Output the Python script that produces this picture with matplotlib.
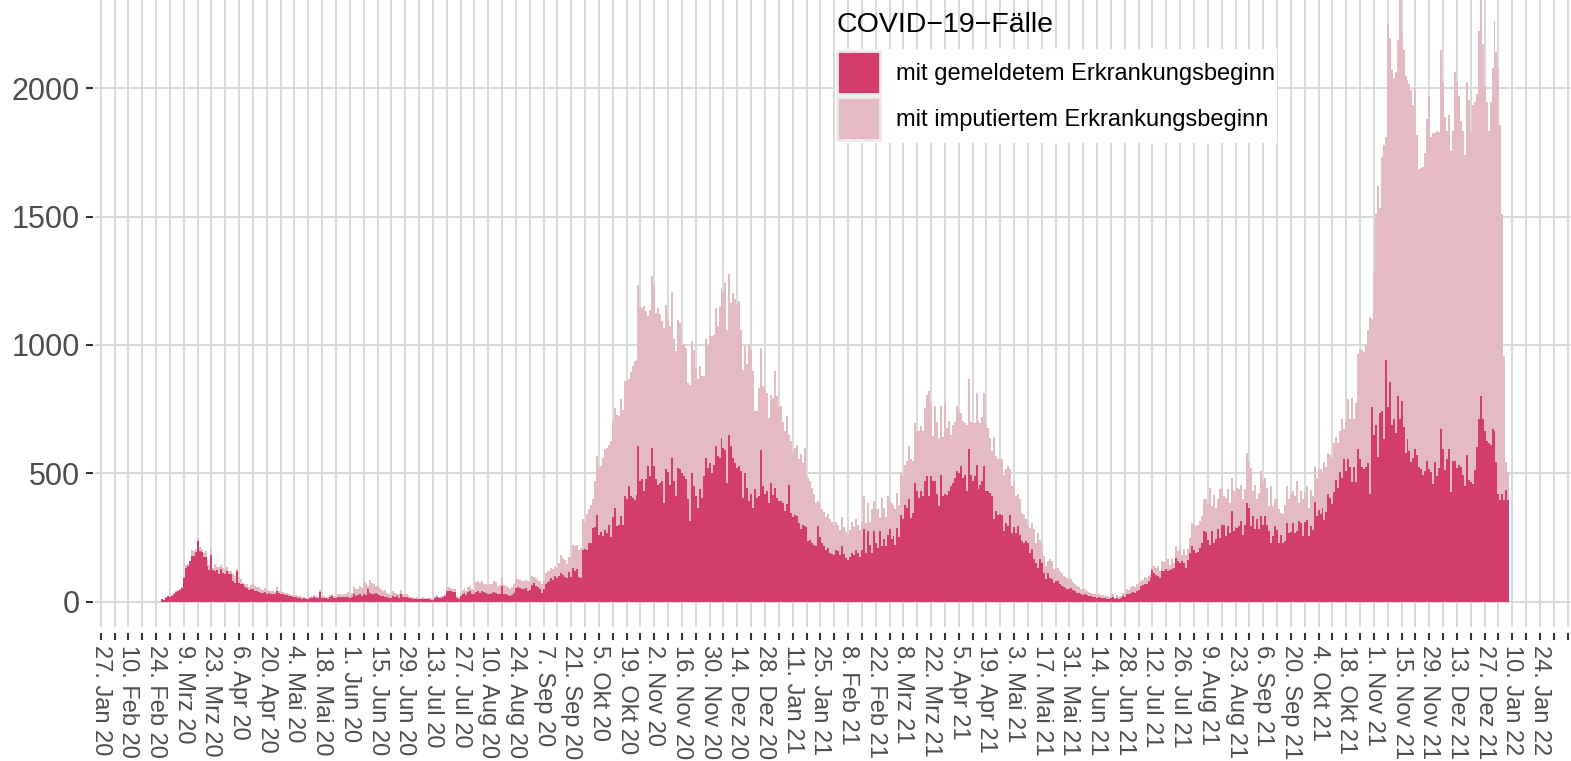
import numpy as np
import pandas as pd
import matplotlib
matplotlib.use("Agg")
import matplotlib.pyplot as plt
import matplotlib.dates as mdates
from matplotlib.patches import Patch

plt.rcParams['font.family'] = ['Liberation Sans', 'DejaVu Sans']

# Tageswerte ab 25.02.2020 (eine Zeile = eine Woche)
# gesamt = alle Faelle (oberer Rand), gemeldet = mit gemeldetem Erkrankungsbeginn
gesamt = [
    0, 0, 10, 7, 16, 22, 22,
    25, 34, 40, 44, 50, 57, 96,
    143, 145, 158, 200, 198, 205, 247,
    213, 205, 191, 195, 161, 143, 205,
    129, 146, 135, 133, 142, 130, 126,
    133, 120, 120, 107, 100, 128, 94,
    87, 74, 68, 68, 58, 63, 68,
    60, 58, 55, 50, 45, 52, 40,
    45, 42, 40, 38, 55, 42, 40,
    38, 35, 32, 30, 26, 25, 22,
    24, 22, 20, 16, 18, 14, 15,
    18, 20, 24, 22, 18, 44, 22,
    20, 18, 16, 24, 30, 22, 20,
    28, 30, 26, 28, 30, 36, 24,
    35, 55, 50, 48, 60, 52, 80,
    72, 60, 82, 74, 70, 60, 55,
    55, 50, 40, 45, 35, 30, 26,
    40, 34, 30, 28, 45, 30, 26,
    28, 22, 18, 16, 14, 16, 12,
    14, 16, 14, 12, 13, 12, 10,
    20, 24, 18, 20, 22, 30, 55,
    55, 52, 50, 48, 22, 16, 30,
    45, 52, 40, 55, 60, 48, 45,
    75, 78, 72, 80, 70, 68, 60,
    70, 68, 80, 75, 62, 65, 90,
    65, 60, 55, 50, 55, 68, 88,
    88, 85, 80, 78, 85, 80, 75,
    100, 95, 90, 85, 80, 70, 85,
    110, 120, 118, 130, 125, 140, 131,
    150, 180, 170, 160, 145, 175, 175,
    220, 215, 222, 200, 210, 320, 310,
    340, 360, 375, 400, 470, 567, 520,
    528, 560, 593, 600, 610, 625, 700,
    755, 729, 722, 790, 748, 859, 860,
    866, 895, 920, 937, 943, 1232, 1149,
    1145, 1151, 1132, 1112, 1138, 1268, 1236,
    1125, 1145, 1120, 1093, 1067, 1154, 1099,
    1073, 1206, 1024, 976, 1099, 1085, 1000,
    1002, 989, 852, 846, 1015, 982, 911,
    866, 917, 878, 880, 1024, 1000, 1040,
    1034, 1040, 1145, 1073, 1150, 1223, 1216,
    1242, 1060, 1275, 1164, 1203, 1180, 1160,
    1171, 1060, 904, 995, 924, 1000, 980,
    898, 742, 742, 833, 989, 839, 830,
    813, 716, 807, 794, 898, 800, 760,
    761, 700, 664, 722, 650, 625, 580,
    600, 610, 555, 574, 540, 600, 489,
    482, 470, 443, 420, 385, 390, 378,
    360, 350, 330, 340, 320, 310, 300,
    310, 300, 280, 330, 290, 270, 260,
    280, 310, 290, 320, 300, 280, 310,
    411, 307, 385, 310, 359, 391, 360,
    359, 326, 404, 365, 330, 411, 391,
    385, 372, 359, 424, 378, 502, 490,
    534, 547, 606, 554, 547, 697, 664,
    664, 684, 664, 755, 807, 820, 775,
    645, 762, 700, 638, 762, 640, 775,
    677, 703, 651, 690, 700, 762, 740,
    735, 703, 697, 690, 866, 700, 697,
    697, 814, 703, 697, 720, 814, 690,
    677, 638, 586, 640, 567, 554, 560,
    554, 495, 515, 528, 515, 450, 470,
    411, 420, 398, 346, 339, 320, 300,
    287, 307, 281, 229, 268, 240, 229,
    177, 138, 157, 164, 157, 125, 130,
    131, 120, 110, 100, 95, 90, 86,
    86, 75, 70, 60, 55, 50, 47,
    47, 40, 36, 34, 30, 28, 25,
    28, 25, 24, 22, 20, 18, 20,
    30, 15, 25, 18, 22, 35, 28,
    47, 45, 55, 60, 58, 70, 73,
    78, 85, 95, 90, 100, 108, 138,
    138, 131, 138, 118, 157, 153, 157,
    164, 144, 164, 150, 216, 196, 210,
    183, 203, 180, 205, 248, 307, 300,
    294, 300, 313, 333, 398, 400, 380,
    443, 372, 417, 365, 398, 437, 443,
    411, 404, 437, 385, 482, 430, 410,
    443, 437, 456, 398, 437, 580, 543,
    521, 430, 456, 398, 424, 508, 470,
    482, 443, 372, 450, 372, 398, 400,
    359, 346, 340, 378, 450, 398, 420,
    430, 410, 469, 385, 430, 398, 426,
    449, 365, 434, 411, 526, 480, 518,
    518, 503, 542, 526, 580, 572, 560,
    618, 642, 618, 665, 711, 672, 700,
    788, 711, 795, 711, 772, 965, 980,
    980, 972, 1000, 1057, 1111, 1103, 1280,
    1511, 1618, 1534, 1734, 1780, 1811, 2249,
    2195, 2072, 2042, 2065, 2188, 2420, 2226,
    2150, 2049, 2034, 2018, 1995, 1934, 2003,
    1818, 1688, 1690, 1695, 1750, 1880, 1972,
    1811, 1826, 1826, 1834, 1830, 2149, 2026,
    1888, 1834, 1895, 1757, 1834, 2065, 2026,
    1972, 1872, 1834, 1742, 2026, 1957, 1834,
    1934, 1949, 1980, 2226, 2400, 2172, 2011,
    1949, 1834, 1949, 2080, 2265, 2142, 2080,
    1857, 1511, 957, 542, 503,
]

gemeldet = [
    0, 0, 10, 6, 14, 20, 18,
    22, 30, 36, 40, 46, 53, 90,
    130, 138, 158, 178, 178, 192, 234,
    198, 192, 175, 175, 139, 122, 181,
    122, 120, 122, 107, 128, 110, 107,
    120, 107, 107, 81, 74, 118, 74,
    68, 68, 55, 51, 45, 48, 48,
    42, 40, 38, 35, 32, 38, 28,
    32, 30, 28, 28, 42, 32, 30,
    30, 26, 24, 22, 20, 18, 16,
    16, 14, 14, 10, 12, 9, 10,
    12, 14, 16, 14, 12, 38, 14,
    12, 12, 10, 16, 22, 14, 12,
    16, 18, 16, 18, 16, 18, 14,
    18, 28, 22, 24, 30, 20, 28,
    26, 48, 32, 30, 28, 34, 30,
    24, 22, 20, 18, 16, 15, 14,
    22, 18, 20, 14, 28, 18, 16,
    18, 14, 12, 10, 9, 10, 8,
    9, 10, 9, 8, 8, 7, 6,
    14, 18, 12, 14, 16, 22, 40,
    40, 40, 38, 36, 14, 10, 20,
    28, 35, 25, 36, 40, 30, 28,
    36, 40, 35, 42, 38, 32, 30,
    30, 32, 38, 35, 28, 30, 60,
    30, 28, 25, 22, 25, 35, 52,
    55, 52, 50, 48, 52, 40, 45,
    65, 72, 60, 55, 50, 35, 50,
    70, 75, 80, 90, 85, 100, 92,
    100, 110, 105, 95, 90, 115, 95,
    130, 118, 125, 95, 92, 200, 205,
    200, 229, 230, 287, 290, 339, 260,
    270, 255, 280, 268, 300, 250, 330,
    365, 294, 300, 333, 300, 410, 400,
    450, 410, 405, 395, 415, 606, 469,
    476, 430, 476, 528, 489, 600, 528,
    476, 456, 463, 470, 385, 515, 505,
    456, 560, 470, 410, 521, 515, 500,
    489, 476, 398, 313, 502, 450, 411,
    365, 437, 404, 489, 560, 520, 540,
    502, 534, 606, 567, 560, 637, 600,
    592, 463, 651, 606, 560, 541, 520,
    528, 508, 404, 502, 443, 391, 420,
    365, 437, 404, 410, 592, 450, 420,
    430, 385, 463, 417, 443, 404, 390,
    391, 385, 352, 380, 456, 345, 330,
    339, 333, 307, 281, 300, 294, 290,
    235, 240, 229, 220, 216, 294, 250,
    230, 215, 200, 210, 190, 185, 180,
    200, 195, 180, 215, 185, 170, 160,
    175, 190, 180, 200, 190, 175, 200,
    281, 190, 274, 222, 190, 274, 230,
    209, 274, 216, 242, 216, 261, 281,
    242, 255, 222, 287, 250, 339, 320,
    378, 365, 398, 326, 346, 463, 430,
    404, 430, 411, 469, 489, 411, 489,
    469, 469, 420, 372, 494, 411, 420,
    417, 430, 450, 463, 482, 508, 500,
    528, 482, 494, 430, 593, 494, 470,
    489, 534, 437, 456, 470, 528, 430,
    430, 424, 411, 320, 352, 339, 340,
    339, 274, 307, 294, 339, 268, 290,
    268, 294, 260, 235, 229, 235, 230,
    190, 203, 164, 151, 131, 164, 150,
    112, 86, 110, 92, 86, 73, 80,
    79, 70, 62, 56, 52, 50, 47,
    53, 45, 40, 35, 32, 30, 27,
    30, 26, 22, 20, 18, 16, 14,
    16, 14, 13, 12, 11, 10, 12,
    16, 8, 14, 10, 12, 22, 18,
    30, 28, 32, 36, 34, 42, 45,
    60, 65, 70, 68, 80, 90, 122,
    112, 105, 99, 92, 118, 118, 125,
    118, 122, 125, 129, 170, 157, 150,
    157, 150, 131, 160, 190, 218, 200,
    190, 193, 209, 229, 274, 270, 240,
    222, 274, 229, 242, 281, 248, 300,
    300, 255, 294, 268, 352, 274, 290,
    287, 294, 313, 261, 300, 385, 365,
    294, 333, 281, 320, 281, 333, 300,
    333, 300, 274, 229, 255, 294, 280,
    229, 261, 229, 235, 307, 268, 270,
    307, 268, 274, 313, 307, 255, 311,
    318, 257, 295, 280, 388, 334, 357,
    342, 365, 318, 349, 418, 403, 380,
    426, 472, 442, 503, 480, 557, 510,
    557, 526, 465, 526, 465, 595, 557,
    526, 518, 526, 540, 418, 757, 649,
    688, 565, 734, 742, 634, 942, 757,
    857, 688, 711, 657, 803, 711, 780,
    680, 580, 634, 588, 542, 560, 595,
    572, 526, 518, 495, 510, 549, 518,
    503, 457, 542, 488, 520, 672, 595,
    511, 557, 595, 426, 549, 549, 520,
    534, 526, 495, 449, 572, 472, 465,
    457, 511, 603, 711, 803, 711, 665,
    626, 618, 611, 672, 665, 542, 418,
    395, 418, 395, 434, 395,
]

monate = ['Jan', 'Feb', 'Mrz', 'Apr', 'Mai', 'Jun',
          'Jul', 'Aug', 'Sep', 'Okt', 'Nov', 'Dez']
y_ticks = [0, 500, 1000, 1500, 2000]

datum = pd.date_range('2020-02-25', periods=len(gesamt), freq='D')
gesamt = np.array(gesamt)
gemeldet = np.array(gemeldet)
imputiert = gesamt - gemeldet

dunkel = '#d33d6b'
hell = '#e4bbc3'

fig = plt.figure(figsize=(15.71, 7.61), dpi=100)
ax = fig.add_axes([95 / 1571, 134 / 761, 1476 / 1571, 627 / 761])

# spines zuerst verschieben (set_position setzt die Ticks zurueck)
for s in ['top', 'right']:
    ax.spines[s].set_visible(False)
ax.spines['bottom'].set_position(('outward', 4.3))
ax.spines['left'].set_position(('outward', 1.5))
ax.spines['bottom'].set_visible(False)
ax.spines['left'].set_visible(False)

ax.bar(datum, gemeldet, width=1.0, color=dunkel, linewidth=0, antialiased=False)
ax.bar(datum, imputiert, bottom=gemeldet, width=1.0, color=hell,
       linewidth=0, antialiased=False)

ax.tick_params(axis='x', length=5, width=1.5, color='#333333', pad=4.0,
               labelsize=17, labelcolor='#4d4d4d', labelrotation=270)
ax.tick_params(axis='y', length=5, width=1.5, color='#333333', pad=4.3,
               labelsize=22, labelcolor='#4d4d4d')

# Wochen-Ticks (Montage), Beschriftung jede zweite Woche bis 24. Jan 22
wochen = pd.date_range('2020-01-27', '2022-02-07', freq='7D')
labels = []
for i, d in enumerate(wochen):
    if i % 2 == 0 and d <= pd.Timestamp('2022-01-24'):
        labels.append(f"{d.day}. {monate[d.month - 1]} {d:%y}")
    else:
        labels.append('')
ax.set_xticks(mdates.date2num(wochen))
ax.set_xticklabels(labels, ha='center', va='top')

x0 = mdates.date2num(pd.Timestamp('2020-01-27'))
ax.set_xlim(x0 - 2.9, x0 + 743.7)
ax.set_ylim(-99.4, 2345)
ax.set_yticks(y_ticks)
ax.set_yticklabels([str(v) for v in y_ticks])

ax.grid(True, color='#d9d9d9', linewidth=1.4)
ax.set_axisbelow(True)

handles = [Patch(facecolor=dunkel, edgecolor='#ebebeb', linewidth=2),
           Patch(facecolor=hell, edgecolor='#ebebeb', linewidth=2)]
leg = ax.legend(handles, ['mit gemeldetem Erkrankungsbeginn',
                          'mit imputiertem Erkrankungsbeginn'],
                loc='upper left', bbox_to_anchor=(835 / 1571, 1 - 49 / 761),
                bbox_transform=fig.transFigure, fontsize=17,
                frameon=True, facecolor='white', edgecolor='none',
                fancybox=False, framealpha=1, borderpad=0.1,
                handlelength=1.82, handleheight=2.43, handletextpad=0.65,
                labelspacing=0.12, borderaxespad=0)
fig.text(836 / 1571, 1 - 32 / 761, 'COVID\u221219\u2212F\u00e4lle',
         fontsize=20.5, color='black', va='baseline', ha='left')

fig.savefig('out.png', dpi=100)
